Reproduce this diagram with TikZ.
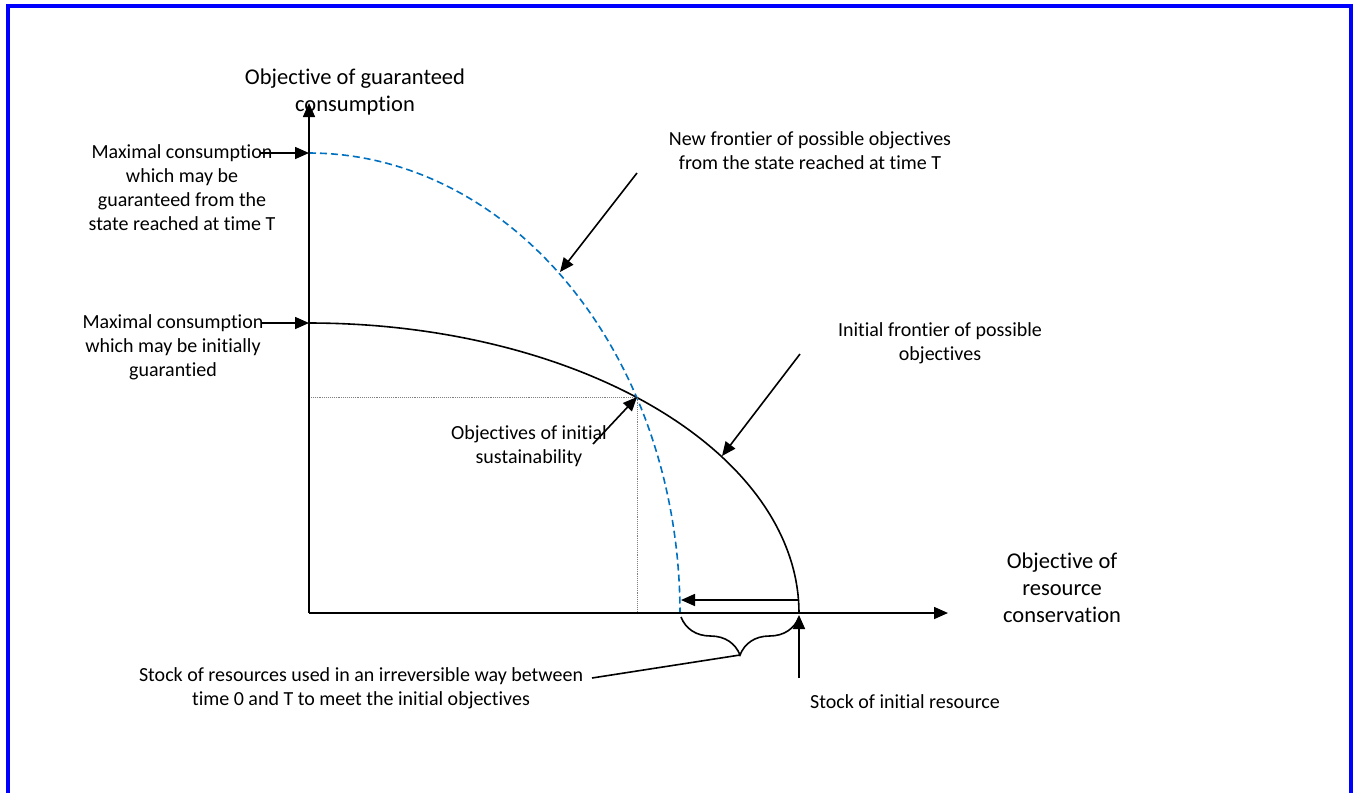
\documentclass[tikz,border=0pt]{standalone}
\usepackage{fontspec}
\setmainfont[RawFeature={-liga;-clig;-dlig;-calt}]{Carlito}
\usetikzlibrary{arrows.meta}
\usetikzlibrary{positioning}
\usetikzlibrary{decorations.pathreplacing}
\definecolor{newblue}{HTML}{0070C0}
\begin{document}
\begin{tikzpicture}[x=1pt,y=-1pt]
\tikzstyle{texte}=[align=center,inner sep=0pt,font=\fontsize{20}{24}\selectfont]
\tikzstyle{axe}=[align=center,inner sep=0pt,font=\fontsize{22.5}{27}\selectfont]
\tikzstyle{trait}=[line width=1.6pt]
\tikzstyle{fleche}=[-{Triangle[length=14pt,width=12pt]},line width=1.6pt]
\tikzstyle{repere}=[densely dotted,gray,line width=0.9pt]
\tikzstyle{nouvelle}=[newblue,line width=1.6pt,dash pattern=on 7pt off 4pt]
%cadre
\useasboundingbox (0,0) rectangle (1353,793);
\draw[blue,line width=4pt] (7.5,793) |- (1350.5,5.5) -- (1350.5,793);
%points
\coordinate (o) at (309,613);
\coordinate (ytop) at (309,103);
\coordinate (xend) at (948,613);
\coordinate (cmaxT) at (309,153);
\coordinate (cmax0) at (309,323);
\coordinate (sust) at (637,397);
\coordinate (pnew) at (560,272);
\coordinate (pinit) at (722,456);
\coordinate (hfrom) at (799,600);
\coordinate (hto) at (681,600);
\coordinate (vfrom) at (799,678);
\coordinate (vto) at (799,615);
\coordinate (bleft) at (681,617);
\coordinate (bright) at (799,617);
\coordinate (btip) at (740,655);
%frontieres
\draw[trait] plot[domain=90:0,samples=80,smooth] ({309+490*cos(\x)},{613-290*sin(\x)});
\draw[nouvelle] plot[domain=90:0,samples=80,smooth] ({309+371*cos(\x)},{613-460*sin(\x)});
\draw[repere] (o |- sust) -- (sust) -- (sust |- o);
%axes
\draw[fleche] (o) -- (ytop);
\draw[fleche] (o) -- (xend);
%textes
\node[axe] (ylabel) at (355,92) {Objective of guaranteed\\consumption};
\node[axe] (xlabel) at (1062,588) {Objective of\\resource\\conservation};
\node[texte] (lmaxT) at (182,188) {Maximal consumption\\which may be\\guaranteed from the\\state reached at time T};
\node[texte] (lmax0) at (173,347) {Maximal consumption\\which may be initially\\guarantied};
\node[texte] (lnew) at (810,151) {New frontier of possible objectives\\from the state reached at time T};
\node[texte] (linit) at (940,343) {Initial frontier of possible\\objectives};
\node[texte] (lsust) at (529,446) {Objectives of initial\\sustainability};
\node[texte] (lstock) at (361,688) {Stock of resources used in an irreversible way between\\time 0 and T to meet the initial objectives};
\node[texte] (lres) at (905,702) {Stock of initial resource};
%fleches
\coordinate (tmaxT) at (260,153);
\coordinate (tmax0) at (262,323);
\coordinate (tnew) at (637,173);
\coordinate (tinit) at (800,354);
\coordinate (tsust) at (593,444);
\coordinate (tstock) at (592,678);
\draw[fleche] (tmaxT) -- (cmaxT);
\draw[fleche] (tmax0) -- (cmax0);
\draw[fleche] (tnew) -- (pnew);
\draw[fleche] (tinit) -- (pinit);
\draw[fleche] (tsust) -- (sust);
\draw[fleche] (hfrom) -- (hto);
\draw[fleche] (vfrom) -- (vto);
\draw[trait,decorate,decoration={brace,amplitude=38pt}] (bright) -- (bleft);
\draw[trait] (btip) -- (tstock);
\end{tikzpicture}
\end{document}
